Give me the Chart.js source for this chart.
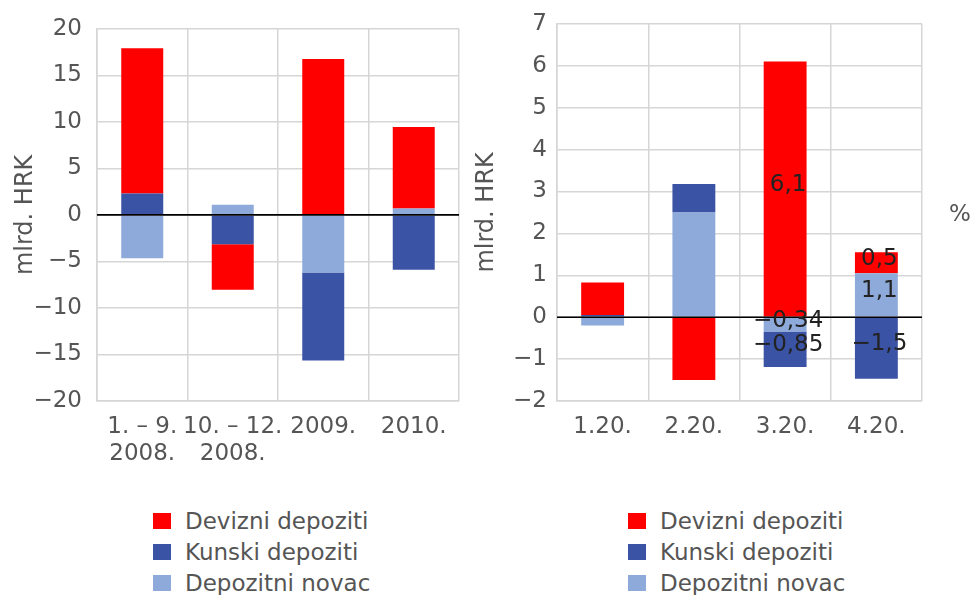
<!DOCTYPE html>
<html>
<head>
<meta charset="utf-8">
<script src="https://cdn.jsdelivr.net/npm/chart.js@4/dist/chart.umd.min.js"></script>
<style>
  html, body { margin: 0; padding: 0; background: #fff; }
  body { width: 976px; height: 595px; position: relative; overflow: hidden; font-family: "DejaVu Sans", sans-serif; }
  canvas { position: absolute; top: 0; }
  #cLeft { left: 0; }
  #cRight { left: 470px; }
  .legend { position: absolute; top: 505px; }
  .legend .row { height: 31px; display: flex; align-items: center; color: #555; font-size: 23px; white-space: nowrap; }
  .legend .sw { width: 18px; height: 16px; margin-right: 14px; flex: none; }
</style>
</head>
<body>
<canvas id="cLeft" width="470" height="480"></canvas>
<canvas id="cRight" width="506" height="480"></canvas>
<div class="legend" id="legLeft" style="left:153px"></div>
<div class="legend" id="legRight" style="left:628px"></div>
<script>
/* ── podaci: lijevi grafikon (mlrd. HRK) ── */
const leftCategories = [['1. – 9.', '2008.'], ['10. – 12.', '2008.'], '2009.', '2010.'];
const leftDepozitni = [-4.65, 1.1, -6.2, 0.7];
const leftKunski    = [2.3, -3.15, -9.45, -5.9];
const leftDevizni   = [15.6, -4.9, 16.75, 8.75];
const leftTicks     = { min: -20, max: 20, step: 5 };

/* ── podaci: desni grafikon ── */
const rightCategories = ['1.20.', '2.20.', '3.20.', '4.20.'];
const rightDepozitni = [-0.2, 2.5, -0.34, 1.05];
const rightKunski    = [0.05, 0.68, -0.85, -1.47];
const rightDevizni   = [0.78, -1.5, 6.1, 0.5];
const rightTicks     = { min: -2, max: 7, step: 1 };

/* oznake vrijednosti (samo 3. i 4. kategorija) */
const rightLblDepozitni = [null, null, '−0,34', '1,1'];
const rightLblKunski    = [null, null, '−0,85', '−1,5'];
const rightLblDevizni   = [null, null, '6,1', '0,5'];

const COL = { devizni: '#ff0000', kunski: '#3b53a4', depozitni: '#8eaadb' };
const FONT = '"DejaVu Sans", sans-serif';
const TXT = '#555';
const GRID = '#d6d6d6';

/* nulta linija preko stupaca */
const zeroLinePlugin = {
  id: 'zeroLine',
  afterDatasetsDraw(chart){
    const { ctx, chartArea, scales } = chart;
    const y = scales.y.getPixelForValue(0);
    ctx.save();
    ctx.strokeStyle = '#000';
    ctx.lineWidth = 1.6;
    ctx.beginPath();
    ctx.moveTo(chartArea.left, y);
    ctx.lineTo(chartArea.right, y);
    ctx.stroke();
    ctx.restore();
  }
};

const valueLabelPlugin = {
  id: 'valueLabels',
  afterDatasetsDraw(chart){
    const { ctx } = chart;
    ctx.save();
    ctx.font = '23px ' + FONT;
    ctx.fillStyle = '#222';
    ctx.textAlign = 'center';
    ctx.textBaseline = 'middle';
    chart.data.datasets.forEach((ds, i) => {
      if(!ds.valueLabels) return;
      chart.getDatasetMeta(i).data.forEach((bar, j) => {
        const t = ds.valueLabels[j];
        if(!t) return;
        ctx.fillText(t, bar.x + 3, (bar.y + bar.base) / 2 - 4);
      });
    });
    ctx.restore();
  }
};

const percentPlugin = {
  id: 'percentTitle',
  afterDraw(chart){
    const { ctx, chartArea } = chart;
    ctx.save();
    ctx.font = '23px ' + FONT;
    ctx.fillStyle = TXT;
    ctx.textAlign = 'center';
    ctx.textBaseline = 'middle';
    ctx.fillText('%', chart.width - 16, (chartArea.top + chartArea.bottom) / 2 + 3);
    ctx.restore();
  }
};

function buildStacked(canvasId, cats, dep, kun, dev, ticks, opts){
  const ctx = document.getElementById(canvasId).getContext('2d');
  return new Chart(ctx, {
    type: 'bar',
    data: {
      labels: cats,
      datasets: [
        { label: 'Depozitni novac', data: dep, backgroundColor: COL.depozitni, valueLabels: opts.lblDep },
        { label: 'Kunski depoziti', data: kun, backgroundColor: COL.kunski, valueLabels: opts.lblKun },
        { label: 'Devizni depoziti', data: dev, backgroundColor: COL.devizni, valueLabels: opts.lblDev },
      ].map(d => ({ borderWidth: 0, barPercentage: opts.barPct, categoryPercentage: 1, ...d }))
    },
    options: {
      responsive: false, animation: false,
      layout: { padding: { top: opts.padTop, right: opts.padRight, left: 0, bottom: 0 } },
      plugins: { legend: { display: false }, tooltip: { enabled: false } },
      scales: {
        x: {
          stacked: true,
          grid: { color: GRID, lineWidth: 1.5, drawTicks: false, offset: true },
          border: { color: GRID, width: 1.5 },
          ticks: { color: TXT, font: { family: FONT, size: 23 }, padding: 12, maxRotation: 0, autoSkip: false },
          afterFit: s => { s.height = 79; }
        },
        y: {
          stacked: true,
          min: ticks.min, max: ticks.max,
          grid: { color: GRID, lineWidth: 1.5, drawTicks: false },
          border: { color: GRID, width: 1.5 },
          ticks: {
            stepSize: ticks.step, color: TXT, padding: opts.tickPad,
            font: { family: FONT, size: 23 },
            callback: v => (v < 0 ? '−' + Math.abs(v) : String(v))
          },
          title: { display: true, text: 'mlrd. HRK', color: TXT, font: { family: FONT, size: 24 }, padding: { top: opts.titlePad, bottom: 0 } },
          afterFit: s => { s.width = opts.axisW; }
        }
      }
    },
    plugins: opts.plugins
  });
}

const leftChart = buildStacked('cLeft', leftCategories, leftDepozitni, leftKunski, leftDevizni, leftTicks, {
  barPct: 0.464, padTop: 28, padRight: 11, axisW: 97, tickPad: 15, titlePad: 11,
  plugins: [zeroLinePlugin]
});

const rightChart = buildStacked('cRight', rightCategories, rightDepozitni, rightKunski, rightDevizni, rightTicks, {
  barPct: 0.47, padTop: 16, padRight: 54, axisW: 87, tickPad: 10, titlePad: 2,
  lblDep: rightLblDepozitni, lblKun: rightLblKunski, lblDev: rightLblDevizni,
  plugins: [zeroLinePlugin, valueLabelPlugin, percentPlugin]
});

/* legenda u HTML-u, redoslijed kao u originalu */
function renderLegend(containerId, chart){
  const box = document.getElementById(containerId);
  const order = [2, 1, 0];
  box.innerHTML = order.map(i => {
    const ds = chart.data.datasets[i];
    return `<div class="row"><span class="sw" style="background:${ds.backgroundColor}"></span><span>${ds.label}</span></div>`;
  }).join('');
}
renderLegend('legLeft', leftChart);
renderLegend('legRight', rightChart);
</script>
</body>
</html>
